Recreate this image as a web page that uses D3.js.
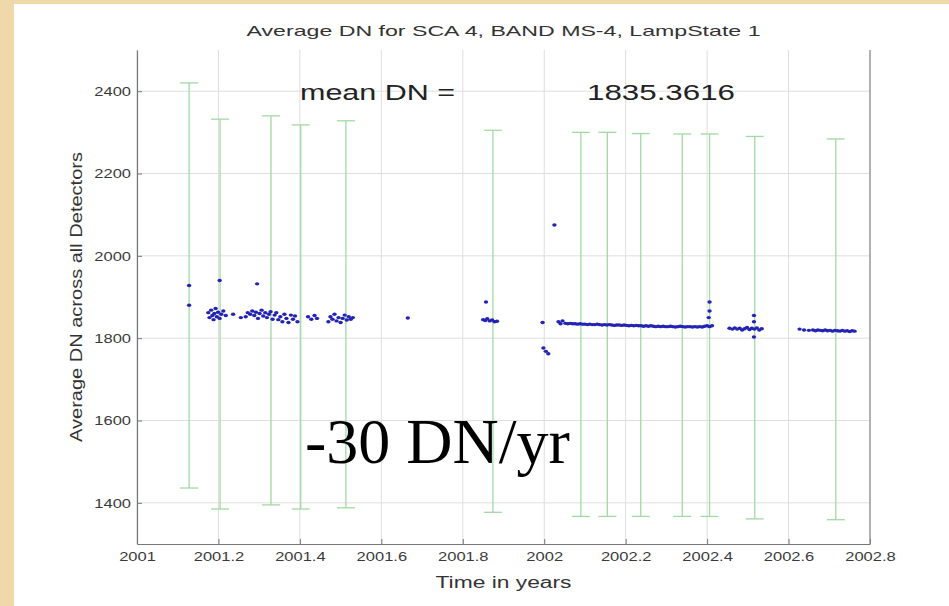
<!DOCTYPE html>
<html>
<head>
<meta charset="utf-8">
<script src="https://cdn.jsdelivr.net/npm/d3@7"></script>
<style>
  html, body { margin: 0; padding: 0; background: #efd9aa; }
  svg { display: block; }
</style>
</head>
<body>
<svg id="chart" width="949" height="606"></svg>
<script>
// ---------- data ----------
const titleText = "Average DN for SCA 4, BAND MS-4, LampState 1";
const xLabelText = "Time in years";
const yLabelText = "Average DN across all Detectors";
const meanLabel = "mean DN =";
const meanValue = "1835.3616";
const slopeLabel = "-30 DN/yr";

const xTicks = [2001, 2001.2, 2001.4, 2001.6, 2001.8, 2002, 2002.2, 2002.4, 2002.6, 2002.8];
const xTickLabels = ["2001", "2001.2", "2001.4", "2001.6", "2001.8", "2002", "2002.2", "2002.4", "2002.6", "2002.8"];
const yTicks = [1400, 1600, 1800, 2000, 2200, 2400];

// range bars (green)
const barYear = [2001.128, 2001.204, 2001.329, 2001.402, 2001.513, 2001.874, 2002.090, 2002.155, 2002.237, 2002.339, 2002.406, 2002.517, 2002.716];
const barHigh = [2420, 2332, 2340, 2318, 2328, 2305, 2300, 2300, 2297, 2296, 2296, 2290, 2284];
const barLow  = [1436, 1385, 1395, 1385, 1388, 1377, 1367, 1367, 1367, 1367, 1367, 1361, 1359];

// blue measurements
const ptYear = [
  2001.128, 2001.128, 2001.203, 2001.295,
  2001.175, 2001.178, 2001.182, 2001.185, 2001.188, 2001.190, 2001.193, 2001.196, 2001.199, 2001.203, 2001.207, 2001.212, 2001.218, 2001.236, 2001.255,
  2001.267, 2001.272, 2001.278, 2001.283, 2001.288, 2001.292, 2001.297, 2001.301, 2001.306, 2001.310, 2001.315, 2001.319, 2001.324, 2001.328, 2001.333, 2001.338, 2001.342, 2001.347, 2001.352, 2001.357, 2001.362, 2001.367, 2001.372, 2001.378, 2001.383, 2001.388, 2001.394,
  2001.420, 2001.428, 2001.436, 2001.442, 2001.470, 2001.475, 2001.480, 2001.485, 2001.490, 2001.495, 2001.500, 2001.505, 2001.510, 2001.515, 2001.520, 2001.525, 2001.530,
  2001.665,
  2001.857, 2001.850, 2001.855, 2001.860, 2001.866, 2001.872, 2001.878, 2001.884,
  2001.996, 2001.998, 2002.004, 2002.010, 2002.025,
  2002.035, 2002.040, 2002.045, 2002.052, 2002.058, 2002.064, 2002.070, 2002.076, 2002.082, 2002.088, 2002.094, 2002.100, 2002.106, 2002.112, 2002.118, 2002.124, 2002.130, 2002.136, 2002.142, 2002.148, 2002.154, 2002.160, 2002.166, 2002.172, 2002.178, 2002.184, 2002.190, 2002.196, 2002.202, 2002.208, 2002.214, 2002.220, 2002.226, 2002.232, 2002.238, 2002.244, 2002.250, 2002.256, 2002.262, 2002.268, 2002.274, 2002.280, 2002.286, 2002.292, 2002.298, 2002.304, 2002.310, 2002.316, 2002.322, 2002.328, 2002.334, 2002.340, 2002.346, 2002.352, 2002.358, 2002.364, 2002.370, 2002.376, 2002.382, 2002.388, 2002.394, 2002.400, 2002.406, 2002.412,
  2002.406, 2002.406, 2002.404,
  2002.455, 2002.462, 2002.468, 2002.474, 2002.480, 2002.486, 2002.492, 2002.498, 2002.504, 2002.510, 2002.516, 2002.522, 2002.528, 2002.534,
  2002.515, 2002.515, 2002.515,
  2002.627, 2002.638, 2002.650, 2002.660, 2002.666, 2002.672, 2002.678, 2002.684, 2002.690, 2002.696, 2002.702, 2002.708, 2002.714, 2002.720, 2002.726, 2002.732, 2002.738, 2002.744, 2002.750, 2002.756, 2002.762
];
const ptDN = [
  1928, 1880, 1940, 1932,
  1862, 1850, 1868, 1855, 1845, 1860, 1872, 1852, 1863, 1848, 1858, 1866, 1855, 1858, 1850,
  1852, 1862, 1858, 1866, 1855, 1863, 1848, 1860, 1868, 1854, 1862, 1850, 1858, 1864, 1846, 1856, 1862, 1845, 1852, 1840, 1858, 1848, 1838, 1856, 1846, 1854, 1840,
  1852, 1846, 1855, 1848, 1840, 1852, 1846, 1858, 1842, 1850, 1838, 1848, 1856, 1844, 1852, 1846, 1850,
  1849,
  1888, 1845, 1843, 1847, 1842, 1844, 1840, 1841,
  1838, 1776, 1768, 1762, 2075,
  1840, 1835, 1842, 1836, 1835, 1836, 1835, 1835, 1834, 1835, 1834, 1834, 1833, 1834, 1833, 1833, 1834, 1833, 1832, 1833, 1832, 1833, 1832, 1831, 1832, 1832, 1831, 1832, 1831, 1830, 1831, 1830, 1831, 1830, 1830, 1829, 1830, 1829, 1830, 1829, 1828, 1829, 1828, 1829, 1828, 1828, 1829, 1828, 1827, 1828, 1829, 1828, 1827, 1828, 1828, 1827, 1828, 1827, 1828, 1827, 1829, 1830, 1828, 1830,
  1888, 1866, 1850,
  1824, 1822, 1825, 1822, 1824, 1820, 1823, 1826, 1821, 1824, 1822, 1825, 1820, 1823,
  1855, 1840, 1803,
  1822, 1820, 1819, 1820, 1818, 1820, 1819, 1818, 1820, 1818, 1819, 1817, 1819, 1818, 1817, 1819, 1817, 1818, 1816, 1818, 1817
];

// ---------- drawing ----------
(function draw() {
const W = 949, H = 606;
const svg = d3.select("#chart");
const sans = "Liberation Sans, Arial, sans-serif";

// horizontally stretch text (the original figure was stretched)
function stretchBy(sel, k) {
  sel.each(function () {
    const L = this.getComputedTextLength();
    d3.select(this).attr("textLength", L * k).attr("lengthAdjust", "spacingAndGlyphs");
  });
}
function fitTo(sel, len) {
  sel.attr("textLength", len).attr("lengthAdjust", "spacingAndGlyphs");
}

// paper panel
svg.append("rect").attr("x", 14).attr("y", 4).attr("width", W - 14).attr("height", H - 4).attr("fill", "#ffffff");

const pLeft = 137, pRight = 870, pTop = 50, pBottom = 544;
const x = d3.scaleLinear().domain([2001, 2002.8]).range([pLeft, pRight]);
const y = d3.scaleLinear().domain([1300, 2500]).range([pBottom, pTop]);

const g = svg.append("g");

// grid
g.append("g").selectAll("line").data(xTicks).join("line")
  .attr("x1", d => x(d)).attr("x2", d => x(d)).attr("y1", pTop).attr("y2", pBottom)
  .attr("stroke", "#dedede").attr("stroke-width", 1);
g.append("g").selectAll("line").data(yTicks).join("line")
  .attr("x1", pLeft).attr("x2", pRight).attr("y1", d => y(d)).attr("y2", d => y(d))
  .attr("stroke", "#dedede").attr("stroke-width", 1);

// axes
const xAxis = d3.axisBottom(x).tickValues(xTicks).tickFormat((d, i) => xTickLabels[i]).tickSizeInner(-5).tickSizeOuter(0).tickPadding(8);
const yAxis = d3.axisLeft(y).tickValues(yTicks).tickFormat(d3.format("d")).tickSizeInner(-5).tickSizeOuter(0).tickPadding(6);

const gx = g.append("g").attr("transform", `translate(0,${pBottom})`).call(xAxis);
const gy = g.append("g").attr("transform", `translate(${pLeft},0)`).call(yAxis);
[gx, gy].forEach(a => {
  a.select(".domain").attr("stroke", "#777").attr("stroke-width", 1.2);
  a.selectAll(".tick line").attr("stroke", "#777");
  a.selectAll(".tick text").attr("fill", "#3a3a3a").attr("font-family", sans).attr("font-size", 13);
  stretchBy(a.selectAll(".tick text"), 1.27);
});
// right border
g.append("line").attr("x1", pRight).attr("x2", pRight).attr("y1", pTop).attr("y2", pBottom).attr("stroke", "#888").attr("stroke-width", 1.2);

// range bars
const capHalf = 9;
const bars = g.append("g").attr("stroke", "#a3d9a5").attr("stroke-width", 1.3);
barYear.forEach((yr, i) => {
  bars.append("line").attr("x1", x(yr)).attr("x2", x(yr)).attr("y1", y(barHigh[i])).attr("y2", y(barLow[i]));
  bars.append("line").attr("x1", x(yr) - capHalf).attr("x2", x(yr) + capHalf).attr("y1", y(barHigh[i])).attr("y2", y(barHigh[i]));
  bars.append("line").attr("x1", x(yr) - capHalf).attr("x2", x(yr) + capHalf).attr("y1", y(barLow[i])).attr("y2", y(barLow[i]));
});

// points
g.append("g").selectAll("ellipse").data(ptYear).join("ellipse")
  .attr("cx", d => x(d)).attr("cy", (d, i) => y(ptDN[i])).attr("rx", 2.2).attr("ry", 1.7)
  .attr("fill", "#2323b4");

// texts
fitTo(svg.append("text").attr("x", (pLeft + pRight) / 2).attr("y", 36).attr("text-anchor", "middle")
  .attr("font-family", sans).attr("font-size", 15).attr("fill", "#333")
  .text(titleText), 514);
fitTo(svg.append("text").attr("x", (pLeft + pRight) / 2).attr("y", 588).attr("text-anchor", "middle")
  .attr("font-family", sans).attr("font-size", 16).attr("fill", "#333")
  .text(xLabelText), 136);
fitTo(svg.append("text").attr("transform", `translate(82,${(pTop + pBottom) / 2}) rotate(-90)`).attr("text-anchor", "middle")
  .attr("font-family", sans).attr("font-size", 17).attr("fill", "#333")
  .text(yLabelText), 290);
fitTo(svg.append("text").attr("x", 300).attr("y", 100)
  .attr("font-family", sans).attr("font-size", 22).attr("fill", "#222")
  .text(meanLabel), 155);
fitTo(svg.append("text").attr("x", 587).attr("y", 100)
  .attr("font-family", sans).attr("font-size", 22).attr("fill", "#222")
  .text(meanValue), 148);
svg.append("text").attr("x", 305).attr("y", 463)
  .attr("font-family", "Liberation Serif, Times New Roman, serif").attr("font-size", 64).attr("fill", "#000")
  .text(slopeLabel);
})();
</script>
</body>
</html>
